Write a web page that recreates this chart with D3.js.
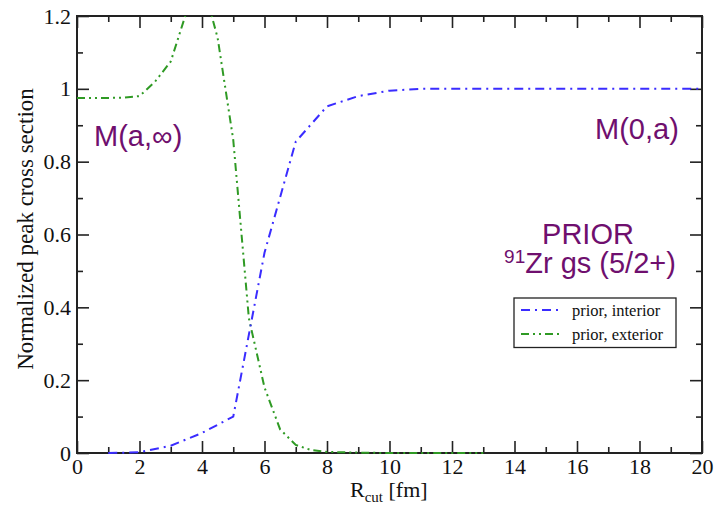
<!DOCTYPE html>
<html lang="en">
  <head>
    <meta charset="utf-8" />
    <style>
      body {
        margin: 0;
        background: #fff;
      }
    </style>
  </head>
  <body>
    <svg id="chart" width="717" height="506"></svg>
    <script src="https://d3js.org/d3.v7.min.js"></script>
    <script>
      // prior, interior  (R_cut in fm, normalized peak cross section)
      const interiorR = [1, 2, 3, 4, 5, 6, 7, 8, 9, 10, 11, 12, 13, 14, 15, 16, 17, 18, 19, 20];
      const interiorValues = [0, 0.002, 0.02, 0.055, 0.1, 0.55, 0.855, 0.952, 0.98, 0.995, 1, 1, 1, 1, 1, 1, 1, 1, 1, 1];

      // prior, exterior
      const exteriorR = [0, 0.5, 1, 1.5, 2, 2.5, 3, 3.5, 4, 4.5, 5, 5.5, 6, 6.5, 7, 7.5, 8, 9, 10, 11, 12, 13];
      const exteriorValues = [0.975, 0.975, 0.975, 0.976, 0.98, 1.02, 1.075, 1.21, 1.3, 1.14, 0.86, 0.37, 0.18, 0.065, 0.022, 0.008, 0.003, 0.001, 0, 0, 0, 0];

      const xTicks = [0, 2, 4, 6, 8, 10, 12, 14, 16, 18, 20];
      const xMinorTicks = d3.range(1, 20, 2);
      const yTicks = [0, 0.2, 0.4, 0.6, 0.8, 1, 1.2];
      const yTickLabels = ["0", "0.2", "0.4", "0.6", "0.8", "1", "1.2"];
      const yMinorTicks = [0.1, 0.3, 0.5, 0.7, 0.9, 1.1];

      const legendLabels = ["prior, interior", "prior, exterior"];

      const plotLeft = 77;
      const plotRight = 702;
      const plotTop = 16;
      const plotBottom = 453;

      const blue = "#3a2cff";
      const green = "#2f9a24";
      const purple = "#6f0f6e";
      const axisColor = "#222";
      const serif = "'Liberation Serif', 'Times New Roman', serif";
      const sans = "'Liberation Sans', Arial, sans-serif";

      const x = d3.scaleLinear().domain([0, 20]).range([plotLeft, plotRight]);
      const y = d3.scaleLinear().domain([0, 1.2]).range([plotBottom, plotTop]);

      const svg = d3.select("#chart");

      svg
        .append("defs")
        .append("clipPath")
        .attr("id", "plot-clip")
        .append("rect")
        .attr("x", plotLeft - 2)
        .attr("y", plotTop)
        .attr("width", plotRight - plotLeft + 4)
        .attr("height", plotBottom - plotTop + 3);

      const styleAxis = g => {
        g.select(".domain").remove();
        g.attr("font-family", null);
        g.selectAll(".tick line")
          .attr("stroke", axisColor)
          .attr("stroke-width", 1.6);
        g.selectAll(".tick text")
          .attr("fill", "#111")
          .style("font-family", serif)
          .style("font-size", "22px");
      };

      // major + minor ticks on all four sides, pointing inward
      svg
        .append("g")
        .attr("transform", `translate(0,${plotBottom})`)
        .call(d3.axisBottom(x).tickValues(xTicks).tickSize(-12).tickPadding(5).tickFormat(d3.format("d")))
        .call(styleAxis);
      svg
        .append("g")
        .attr("transform", `translate(0,${plotBottom})`)
        .call(d3.axisBottom(x).tickValues(xMinorTicks).tickSize(-6).tickFormat(""))
        .call(styleAxis);
      svg
        .append("g")
        .attr("transform", `translate(0,${plotTop})`)
        .call(d3.axisTop(x).tickValues(xTicks).tickSize(-12).tickFormat(""))
        .call(styleAxis);
      svg
        .append("g")
        .attr("transform", `translate(0,${plotTop})`)
        .call(d3.axisTop(x).tickValues(xMinorTicks).tickSize(-6).tickFormat(""))
        .call(styleAxis);

      svg
        .append("g")
        .attr("transform", `translate(${plotLeft},0)`)
        .call(
          d3
            .axisLeft(y)
            .tickValues(yTicks)
            .tickSize(-12)
            .tickPadding(6)
            .tickFormat((d, i) => yTickLabels[i])
        )
        .call(styleAxis);
      svg
        .append("g")
        .attr("transform", `translate(${plotLeft},0)`)
        .call(d3.axisLeft(y).tickValues(yMinorTicks).tickSize(-6).tickFormat(""))
        .call(styleAxis);
      svg
        .append("g")
        .attr("transform", `translate(${plotRight},0)`)
        .call(d3.axisRight(y).tickValues(yTicks).tickSize(-12).tickFormat(""))
        .call(styleAxis);
      svg
        .append("g")
        .attr("transform", `translate(${plotRight},0)`)
        .call(d3.axisRight(y).tickValues(yMinorTicks).tickSize(-6).tickFormat(""))
        .call(styleAxis);

      svg
        .append("rect")
        .attr("x", plotLeft)
        .attr("y", plotTop)
        .attr("width", plotRight - plotLeft)
        .attr("height", plotBottom - plotTop)
        .attr("fill", "none")
        .attr("stroke", axisColor)
        .attr("stroke-width", 2);

      // curves
      const line = d3
        .line()
        .x(d => x(d[0]))
        .y(d => y(d[1]));

      const curves = svg.append("g").attr("clip-path", "url(#plot-clip)");

      curves
        .append("path")
        .datum(d3.zip(exteriorR, exteriorValues))
        .attr("d", line)
        .attr("fill", "none")
        .attr("stroke", green)
        .attr("stroke-width", 2)
        .attr("stroke-dasharray", "8,4,2,4,2,4");

      curves
        .append("path")
        .datum(d3.zip(interiorR, interiorValues))
        .attr("d", line)
        .attr("fill", "none")
        .attr("stroke", blue)
        .attr("stroke-width", 2)
        .attr("stroke-dasharray", "9,5,2,5");

      // axis titles
      svg
        .append("text")
        .attr("transform", "translate(32.5,229) rotate(-90)")
        .attr("text-anchor", "middle")
        .style("font-family", serif)
        .style("font-size", "23px")
        .attr("fill", "#111")
        .text("Normalized peak cross section");

      const xTitle = svg
        .append("text")
        .attr("x", 350)
        .attr("y", 497)
        .style("font-family", serif)
        .style("font-size", "22px")
        .attr("fill", "#111");
      xTitle.append("tspan").text("R");
      xTitle.append("tspan").attr("dy", 5).style("font-size", "15px").text("cut");
      xTitle.append("tspan").attr("dy", -5).text(" [fm]");

      // annotations
      const note = (px, py, anchor) =>
        svg
          .append("text")
          .attr("x", px)
          .attr("y", py)
          .attr("text-anchor", anchor)
          .attr("fill", purple)
          .style("font-family", sans)
          .style("font-size", "29px");

      note(94, 146, "start").text("M(a,\u221e)");
      note(595, 139, "start").text("M(0,a)");
      note(588, 244, "middle").text("PRIOR");

      const nucleus = note(590, 273, "middle");
      nucleus.append("tspan").attr("dy", -10).style("font-size", "19px").text("91");
      nucleus.append("tspan").attr("dy", 10).text("Zr gs (5/2+)");

      // legend
      const legend = svg.append("g");
      legend
        .append("rect")
        .attr("x", 514)
        .attr("y", 298)
        .attr("width", 162)
        .attr("height", 49.5)
        .attr("fill", "#fff")
        .attr("stroke", "#222")
        .attr("stroke-width", 1.3);

      const legendItems = [
        { label: legendLabels[0], color: blue, dash: "9,5,2,5" },
        { label: legendLabels[1], color: green, dash: "8,4,2,4,2,4" }
      ];

      legendItems.forEach((item, i) => {
        const cy = 310 + i * 24;
        legend
          .append("line")
          .attr("x1", 521)
          .attr("x2", 560)
          .attr("y1", cy)
          .attr("y2", cy)
          .attr("stroke", item.color)
          .attr("stroke-width", 2)
          .attr("stroke-dasharray", item.dash);
        legend
          .append("text")
          .attr("x", 572)
          .attr("y", cy + 6)
          .style("font-family", serif)
          .style("font-size", "16.5px")
          .attr("fill", "#111")
          .text(item.label);
      });
    </script>
  </body>
</html>
